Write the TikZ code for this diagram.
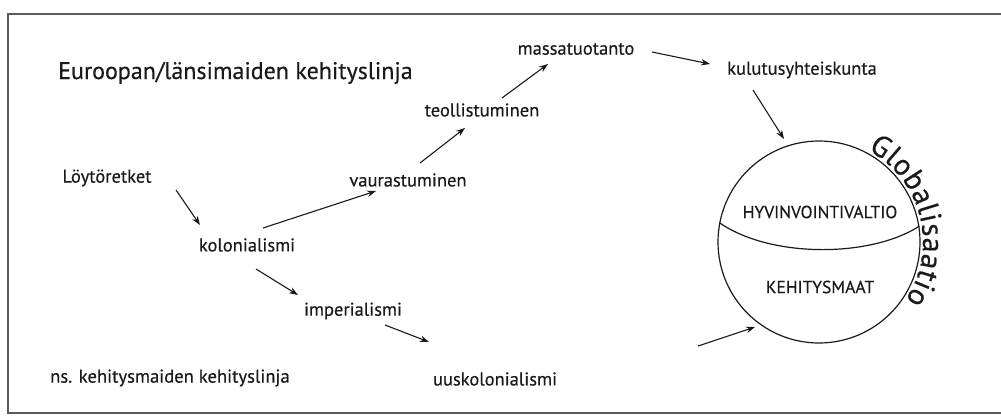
\documentclass[tikz,border=0pt]{standalone}
\usepackage{fontspec}
\setmainfont{PT Sans}[FakeBold=0.35]
\usetikzlibrary{arrows.meta,decorations.text}
\definecolor{ink}{HTML}{1A1A1A}
\definecolor{framec}{HTML}{5A5A5A}
\tikzset{
  lbl/.style={inner sep=0pt, text=ink, font=\fontsize{18.5}{22}\selectfont},
  globetext/.style={inner sep=0pt, text=ink, font=\fontsize{17.5}{21}\selectfont},
  head/.style={inner sep=0pt, text=ink, font=\fontsize{24}{28}\selectfont, anchor=west},
  arr/.style={draw=ink, line width=1.1pt, -{Stealth[length=9pt,width=6.5pt]}},
  globe/.style={draw=ink, line width=1.2pt, circle, minimum size=202pt, inner sep=0pt},
}
\begin{document}
\begin{tikzpicture}[x=1pt,y=-1pt]
\useasboundingbox (0,0) rectangle (1001,415);
\draw[framec, line width=2pt] (1003,14) -- (8,14) -- (8,413) -- (1003,413);
% headings
\node[head] (eur) at (58,73) {Euroopan/länsimaiden kehityslinja};
\node[head, font=\fontsize{18.6}{22}\selectfont] (ns) at (50,378) {ns. kehitysmaiden kehityslinja};
% labels
\node[lbl] (lo) at (107,178) {Löytöretket};
\node[lbl] (kol) at (247,245) {kolonialismi};
\node[lbl] (vau) at (408,180) {vaurastuminen};
\node[lbl] (teo) at (482,110) {teollistuminen};
\node[lbl] (mas) at (576,49) {massatuotanto};
\node[lbl] (kul) at (802,70) {kulutusyhteiskunta};
\node[lbl] (imp) at (353,311) {imperialismi};
\node[lbl] (uus) at (495,379) {uuskolonialismi};
% globe
\node[globe] (gl) at (819,242) {};
\draw[ink, line width=1.2pt] (gl.169) .. controls (770,258) and (870,258) .. (gl.9);
\node[globetext] (hyv) at (820,212) {HYVINVOINTIVALTIO};
\node[globetext] (keh) at (820,287) {KEHITYSMAAT};
\path[decorate, decoration={text along path, text align=fit to path,
  text={|\fontsize{30}{32}\selectfont\color{ink}|Globalisaatio}}]
  (gl.center) ++(-62:104) arc[start angle=-62, end angle=34, radius=104];
% connectors
\coordinate (a1s) at (176,190); \coordinate (a1e) at (200,225);
\coordinate (a2s) at (263,228); \coordinate (a2e) at (376,191);
\coordinate (a3s) at (420,163); \coordinate (a3e) at (465,128);
\coordinate (a4s) at (502,98);  \coordinate (a4e) at (548,64);
\coordinate (a5s) at (652,52);  \coordinate (a5e) at (710,64);
\coordinate (a6s) at (753,90);  \coordinate (a6e) at (784,139);
\coordinate (a7s) at (256,269); \coordinate (a7e) at (298,295);
\coordinate (a8s) at (385,325); \coordinate (a8e) at (429,342);
\coordinate (a9s) at (698,346); \coordinate (a9e) at (755,327);
\draw[arr] (a1s) -- (a1e);
\draw[arr] (a2s) -- (a2e);
\draw[arr] (a3s) -- (a3e);
\draw[arr] (a4s) -- (a4e);
\draw[arr] (a5s) -- (a5e);
\draw[arr] (a6s) -- (a6e);
\draw[arr] (a7s) -- (a7e);
\draw[arr] (a8s) -- (a8e);
\draw[arr] (a9s) -- (a9e);
\end{tikzpicture}
\end{document}
